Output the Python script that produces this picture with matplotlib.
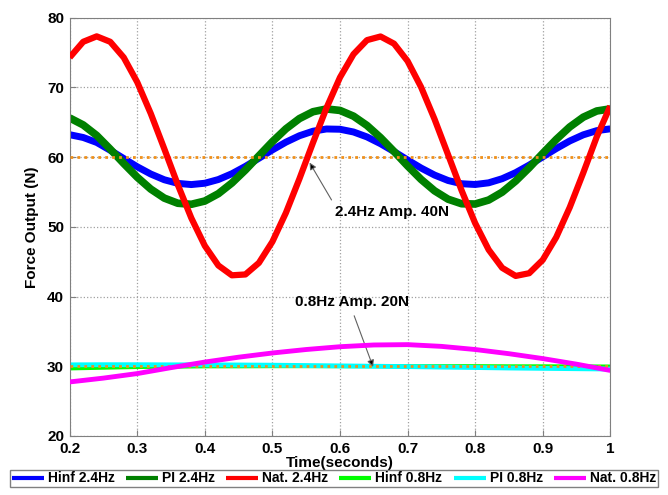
import matplotlib.pyplot as plt
import numpy as np

plt.rcParams.update({
    'font.family': ['Liberation Sans', 'DejaVu Sans'],
    'font.weight': 'bold',
    'font.size': 11,
})

# 2.4Hz test, sampled every 0.02 s
t_fast = [round(0.2 + 0.02 * k, 2) for k in range(41)]

hinf_24 = [63.2, 62.8, 62.09, 60.97, 59.78, 58.60, 57.56, 56.74, 56.22, 56.05,
           56.24, 56.77, 57.60, 58.65, 59.82, 61.02, 62.13, 63.05, 63.70, 64.02,
           63.98, 63.59, 62.88, 61.91, 60.78, 59.58, 58.42, 57.41, 56.63, 56.17,
           56.06, 56.30, 56.89, 57.76, 58.84, 60.02, 61.21, 62.30, 63.18, 63.78,
           64.04]

pi_24 = [65.6, 64.6, 63.09, 61.13, 59.07, 57.10, 55.40, 54.11, 53.37, 53.22,
         53.69, 54.74, 56.27, 58.13, 60.17, 62.20, 64.04, 65.51, 66.49, 66.89,
         66.68, 65.86, 64.52, 62.78, 60.79, 58.73, 56.79, 55.15, 53.95, 53.30,
         53.26, 53.83, 54.96, 56.56, 58.46, 60.52, 62.52, 64.31, 65.71, 66.60,
         66.90]

nat_24 = [74.27, 76.52, 77.30, 76.52, 74.27, 70.73, 66.23, 61.18, 56.03, 51.25,
          47.27, 44.45, 43.04, 43.16, 44.82, 47.86, 52.00, 56.88, 62.04, 67.03,
          71.41, 74.74, 76.76, 77.28, 76.25, 73.76, 70.03, 65.41, 60.32, 55.20,
          50.52, 46.71, 44.11, 42.95, 43.34, 45.24, 48.49, 52.78, 57.73, 62.90,
          67.3]

# 0.8Hz test, sampled every 0.05 s
t_slow = [0.2, 0.25, 0.3, 0.35, 0.4, 0.45, 0.5, 0.55, 0.6,
          0.65, 0.7, 0.75, 0.8, 0.85, 0.9, 0.95, 1.0]
hinf_08 = [29.7, 29.8, 29.9, 29.95, 30.0, 30.0, 30.02, 30.02, 30.02,
           30.02, 30.0, 30.0, 30.0, 29.98, 29.98, 29.97, 29.95]
pi_08 = [30.2, 30.22, 30.22, 30.2, 30.2, 30.18, 30.15, 30.1, 30.05,
         30.0, 29.95, 29.88, 29.82, 29.75, 29.7, 29.65, 29.6]
nat_08 = [27.75, 28.3, 28.95, 29.8, 30.6, 31.3, 31.9, 32.4, 32.8,
          33.05, 33.1, 32.85, 32.4, 31.8, 31.1, 30.3, 29.4]

ref_levels = [60, 30]

fig = plt.figure(figsize=(6.68, 4.95), dpi=100)
ax = fig.add_axes([0.1043, 0.1192, 0.8093, 0.8454])

kw = dict(solid_joinstyle='round', solid_capstyle='butt')
ax.plot(t_fast, hinf_24, color='#0000FF', lw=5, label='Hinf 2.4Hz', zorder=2, **kw)
ax.plot(t_fast, pi_24, color='#008000', lw=5.5, label='PI 2.4Hz', zorder=2, **kw)
ax.plot(t_fast, nat_24, color='#FF0000', lw=4.5, label='Nat. 2.4Hz', zorder=4, **kw)
ax.plot(t_slow, hinf_08, color='#00FF00', lw=3, label='Hinf 0.8Hz', zorder=2, **kw)
ax.plot(t_slow, pi_08, color='#00FFFF', lw=3.5, label='PI 0.8Hz', zorder=2, **kw)
ax.plot(t_slow, nat_08, color='#FF00FF', lw=3.5, label='Nat. 0.8Hz', zorder=4, **kw)

for lvl in ref_levels:
    ax.axhline(lvl, color='#F0901A', lw=2, ls=(0, (1, 1.5)), zorder=3)

ax.set_xlim(0.2, 1.0)
ax.set_ylim(20, 80)
ax.set_xticks([0.2, 0.3, 0.4, 0.5, 0.6, 0.7, 0.8, 0.9, 1.0])
ax.set_xticklabels(['0.2', '0.3', '0.4', '0.5', '0.6', '0.7', '0.8', '0.9', '1'])
ax.set_yticks([20, 30, 40, 50, 60, 70, 80])
ax.grid(True, color='#a0a0a0', ls=':', lw=0.9)
ax.tick_params(direction='in', length=4, color='#808080', labelsize=11)
ax.tick_params(axis='x', pad=4)
ax.tick_params(axis='y', pad=4)
for sp in ax.spines.values():
    sp.set_color('#808080')

ax.set_xlabel('Time(seconds)', fontsize=11, fontweight='bold', labelpad=0)
ax.set_ylabel('Force Output (N)', fontsize=11, fontweight='bold', labelpad=6)

# annotations
ax.annotate('2.4Hz Amp. 40N', xy=(0.555, 59.2), xytext=(0.592, 52.1),
            fontsize=11, fontweight='bold', va='center', ha='left',
            arrowprops=dict(arrowstyle='-|>', color='#606060', lw=0.8,
                            shrinkA=2, shrinkB=0, mutation_scale=10,
                            fc='black', relpos=(0.0, 1.0)))
ax.annotate('0.8Hz Amp. 20N', xy=(0.649, 29.9), xytext=(0.533, 39.2),
            fontsize=11, fontweight='bold', va='center', ha='left',
            arrowprops=dict(arrowstyle='-|>', color='#606060', lw=0.8,
                            shrinkA=3, shrinkB=0, mutation_scale=10,
                            fc='black', relpos=(0.5, 0.0)))

leg = fig.legend(loc='lower center', bbox_to_anchor=(0.5, 0.002), ncol=6,
                 fontsize=10, handlelength=2.3, handletextpad=0.3,
                 columnspacing=0.8, borderpad=0.12, fancybox=False,
                 edgecolor='#808080', framealpha=1)
for line in leg.get_lines():
    line.set_linewidth(3)

fig.savefig('out.png', dpi=100)
